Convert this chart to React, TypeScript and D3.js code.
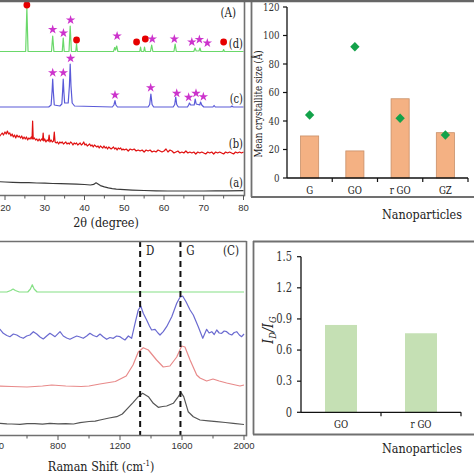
import React from 'react';
import * as d3 from 'd3';

const W = 474;
const H = 474;
const SERIF = 'DejaVu Serif, Liberation Serif, serif';
const SANS = 'Liberation Sans, Arial, Helvetica, DejaVu Sans, sans-serif';
const SQ = 0.83; // horizontal squeeze so DejaVu Serif approximates Times proportions

// ---------------- Panel A : XRD ----------------
const xrdMajorTicks = [20, 30, 40, 50, 60, 70, 80];
const xrdMinorTicks = [15, 25, 35, 45, 55, 65, 75];

// (a) black
const xrdA: [number, number][] = [
  [18.5, 14.3], [20, 14.0], [22, 13.7], [24, 13.4], [26, 13.3], [28, 13.0], [30, 12.8], [32, 12.5],
  [34, 12.4], [36, 12.1], [38, 11.9], [40, 11.5], [41.5, 11.0], [42.3, 11.6], [42.9, 13.2], [43.4, 12.0],
  [44, 10.4], [45, 9.1], [46, 8.1], [47, 7.4], [48, 6.8], [50, 6.3], [52, 5.9], [55, 5.5], [58, 5.2],
  [61, 5.0], [64, 5.0], [67, 5.0], [70, 5.0], [73, 5.2], [76, 5.2], [80, 5.3],
];

// (b) red
const xrdB: [number, number][] = [
  [18.5, 59], [18.9, 61], [19.3, 63], [19.6, 61], [20.0, 64], [20.3, 62], [20.6, 65], [20.9, 62], [21.2, 63],
  [21.5, 60], [21.8, 62], [22.1, 59], [22.4, 61], [22.7, 58], [23.0, 61], [23.3, 59], [23.6, 60], [23.9, 58],
  [24.2, 60], [24.5, 57], [24.8, 59], [25.1, 57], [25.4, 59], [25.7, 56], [26.0, 58], [26.3, 57], [26.6, 59],
  [26.8, 57], [26.95, 75], [27.1, 57], [27.4, 58], [27.7, 56], [28.0, 57], [28.3, 55], [28.6, 57], [28.9, 55],
  [29.2, 57], [29.45, 56], [29.6, 63], [29.75, 55], [30.0, 57], [30.3, 54], [30.6, 56], [30.9, 55], [31.1, 61],
  [31.3, 54], [31.6, 56], [31.9, 54], [32.2, 55], [32.4, 64], [32.6, 54], [32.9, 53], [33.2, 54], [33.5, 52],
  [33.8, 54], [34.1, 53], [34.4, 54], [34.7, 52], [35.0, 53], [35.3, 54], [35.6, 52], [35.9, 53], [36.2, 52],
  [36.5, 54], [36.8, 53], [37.1, 51], [37.4, 53], [37.7, 52], [38.0, 53], [38.3, 51], [38.6, 52], [38.9, 53],
  [39.2, 51], [39.5, 52], [39.8, 54], [40.1, 51], [40.4, 52], [40.7, 50], [41.0, 51], [41.3, 52], [41.6, 50],
  [41.9, 51], [42.2, 49], [42.5, 51], [42.8, 50], [43.1, 49], [43.4, 50], [43.7, 48], [44.0, 50], [44.3, 49],
  [44.6, 48], [44.9, 50], [45.2, 48], [45.5, 49], [45.8, 47], [46.1, 49], [46.4, 48], [46.7, 47], [47.0, 48],
  [47.3, 49], [47.6, 47], [47.9, 48], [48.2, 46], [48.5, 48], [48.8, 47], [49.1, 48], [49.4, 46], [49.7, 47],
  [50.0, 46], [50.5, 47], [51.0, 45], [51.5, 47], [52.0, 46], [52.5, 47], [53.0, 45], [53.5, 46], [54.0, 45],
  [54.5, 46], [55.0, 44], [55.5, 46], [56.0, 45], [56.5, 46], [57.0, 44], [57.5, 45], [58.0, 44], [58.5, 46],
  [59.0, 45], [59.5, 44], [60.0, 45], [60.5, 47], [61.0, 44], [61.5, 46], [62.0, 45], [62.5, 43], [63.0, 44],
  [63.5, 45], [64.0, 43], [64.5, 44], [65.0, 43], [65.5, 45], [66.0, 43], [66.5, 44], [67.0, 43], [67.5, 44],
  [68.0, 42], [68.5, 44], [69.0, 43], [69.5, 44], [70.0, 43], [70.5, 42], [71.0, 44], [71.5, 43], [72.0, 44],
  [72.5, 42], [73.0, 44], [73.5, 43], [74.0, 44], [74.5, 43], [75.0, 42], [75.5, 44], [76.0, 43], [76.5, 44],
  [77.0, 43], [77.5, 42], [78.0, 44], [78.5, 43], [79.0, 44], [79.5, 43], [80.0, 44],
];

// (c) blue
const xrdC: [number, number][] = [
  [10, 89], [31.0, 89], [31.6, 91], [31.85, 105], [32.0, 117], [32.15, 105], [32.4, 91], [33.8, 90],
  [34.3, 92], [34.5, 105], [34.65, 117], [34.8, 105], [35.0, 93], [35.9, 93], [36.2, 110], [36.4, 132],
  [36.6, 110], [36.9, 93], [37.5, 90], [47.0, 89], [47.4, 91], [47.67, 95.3], [47.9, 91], [48.3, 89],
  [56.0, 89], [56.4, 91.5], [56.7, 102], [57.0, 91.5], [57.4, 89], [62.3, 89], [62.7, 91.5], [62.95, 99],
  [63.2, 91.5], [63.6, 89], [65.9, 89], [66.2, 91], [66.4, 93], [66.7, 91], [67.6, 91], [67.85, 97],
  [68.1, 92], [69.0, 91], [69.2, 94], [69.5, 91], [70, 89], [72.3, 89], [72.6, 90.5], [72.9, 89],
  [76.8, 89], [77.1, 90], [77.4, 89], [80, 89],
];

// (d) green
const xrdD: [number, number][] = [
  [10, 144.5], [25.2, 144.5], [25.5, 188], [25.8, 144.5], [31.7, 144.5], [32.0, 160], [32.3, 144.5],
  [34.4, 144.5], [34.65, 158], [34.9, 144.5], [36.1, 144.5], [36.4, 170], [36.7, 144.5], [37.8, 144.5],
  [38.0, 152], [38.2, 144.5], [47.3, 144.5], [47.6, 148.5], [47.8, 146], [48.1, 150], [48.4, 144.5],
  [53.9, 144.5], [54.1, 149], [54.3, 144.5], [54.9, 144.5], [55.1, 149], [55.3, 144.5], [56.6, 144.5],
  [56.9, 151], [57.2, 144.5], [62.5, 144.5], [62.8, 152], [63.1, 144.5], [67.5, 144.5], [67.8, 148],
  [68.1, 145], [68.8, 145], [69.05, 148], [69.3, 144.5], [74.8, 144.5], [75.0, 146.5], [75.2, 144.5],
  [80, 144.5],
];

const xrdDStars: [number, number][] = [
  [32.0, 166.5], [34.7, 163], [36.5, 176], [48.2, 160], [57.05, 157], [62.6, 157], [67.0, 154], [68.9, 156.5], [70.9, 153],
];
const xrdDDots: [number, number][] = [
  [25.5, 191], [38.0, 156], [53.1, 154], [55.3, 157], [75.0, 154],
];
const xrdCStars: [number, number][] = [
  [32.0, 123.3], [34.67, 123.3], [36.5, 137.7], [47.67, 101], [56.65, 108.3], [63.2, 102.7], [66.2, 98.7], [68.05, 102.7], [69.9, 99.3],
];

const xrdTraces = [
  { label: '(a)', data: xrdA, color: '#3a3a3a' },
  { label: '(b)', data: xrdB, color: '#e01010' },
  { label: '(c)', data: xrdC, color: '#5a5ad8' },
  { label: '(d)', data: xrdD, color: '#6ad86a' },
];

// ---------------- Panel B : crystallite size ----------------
const crystCategories = ['G', 'GO', 'r GO', 'GZ'];
const crystBars = [29.5, 19, 55.6, 31.8];
const crystDiamonds = [44.2, 92.1, 41.9, 30.2];
const crystTicks = [0, 20, 40, 60, 80, 100, 120];

// ---------------- Panel C : Raman ----------------
const ramanMajorTicks = [400, 800, 1200, 1600, 2000];
const ramanMinorTicks = [600, 1000, 1400, 1800];
const ramanBands = [
  { label: 'D', pos: 1330 },
  { label: 'G', pos: 1590 },
];

const ramanBlack: [number, number][] = [
  [400, 12.5], [426, 12.7], [470, 12.2], [500, 12.0], [555, 11.7], [600, 12.4], [650, 12.3], [700, 11.9],
  [748, 12.7], [800, 12.2], [850, 12.4], [900, 12.0], [942, 13.3], [1000, 14.5], [1040, 14.8], [1071, 16],
  [1130, 18], [1179, 19.3], [1215, 22], [1243, 26.7], [1284, 33.3], [1318, 39.3], [1346, 42.7], [1383, 39.3],
  [1415, 32.7], [1447, 28.7], [1475, 29.5], [1501, 30], [1544, 32.7], [1576, 39.3], [1594, 43.3], [1611, 39.3],
  [1640, 24.3], [1673, 19.3], [1716, 16], [1770, 15.2], [1824, 14.3], [1880, 13.5], [1931, 12.7], [2000, 11.5],
];

const ramanRed: [number, number][] = [
  [400, 50], [500, 49.5], [600, 49], [700, 50], [760, 51], [850, 50], [950, 49.5], [1000, 50], [1070, 52],
  [1170, 54.5], [1240, 60], [1284, 71], [1318, 84], [1350, 88.3], [1383, 86], [1436, 76], [1479, 69],
  [1522, 70], [1566, 79], [1598, 90], [1619, 89], [1652, 76], [1695, 61], [1716, 58], [1759, 55],
  [1800, 57], [1840, 55], [1888, 53], [1974, 50], [2000, 51],
];

const ramanBlue: [number, number][] = [
  [400, 108], [426, 106.7], [447, 102.7], [470, 100.5], [490, 99.3], [512, 102], [534, 101], [555, 99],
  [576, 97.7], [598, 100], [619, 101], [641, 104.3], [663, 102], [684, 99], [705, 97], [727, 100],
  [748, 102.7], [765, 101], [781, 99.3], [813, 104.3], [834, 100], [856, 98], [877, 96.7], [900, 98.5],
  [921, 100], [942, 99], [963, 97.7], [985, 100], [1006, 102.7], [1028, 100.5], [1050, 99.3], [1071, 102],
  [1093, 99], [1114, 96.7], [1135, 98.5], [1157, 97.7], [1178, 100], [1200, 99.3], [1216, 97.5], [1232, 96],
  [1254, 100], [1275, 97.7], [1297, 112.7], [1318, 126], [1334, 130], [1350, 122.7], [1372, 116], [1390, 110],
  [1404, 106], [1426, 106.7], [1445, 103], [1458, 101], [1479, 104.3], [1501, 109.3], [1534, 119.3],
  [1566, 132.7], [1587, 138.7], [1604, 140], [1626, 134.3], [1652, 126], [1673, 121], [1705, 109.3],
  [1734, 97.7], [1759, 106.7], [1775, 103], [1792, 104.3], [1808, 101.5], [1824, 106], [1840, 103],
  [1856, 102.7], [1872, 105], [1888, 104.3], [1905, 102], [1921, 101], [1937, 103.5], [1953, 104.3],
  [1970, 101], [1985, 99.3], [2000, 102],
];

const ramanGreen: [number, number][] = [
  [400, 144], [470, 144], [495, 145.5], [510, 147], [525, 145.5], [550, 144], [605, 144], [622, 147],
  [634, 151.3], [646, 147], [665, 144], [2000, 144],
];

const ramanTraces = [
  { data: ramanBlack, color: '#555555' },
  { data: ramanRed, color: '#e88a8a' },
  { data: ramanBlue, color: '#6a6ad0' },
  { data: ramanGreen, color: '#86e086' },
];

// ---------------- Panel D : ID/IG ----------------
const ratioCategories = ['GO', 'r GO'];
const ratioValues = [0.842, 0.762];
const ratioTicks = [0, 0.3, 0.6, 0.9, 1.2, 1.5];

const FRAME = '#707070';

type STProps = {
  x: number; y: number; size: number; anchor?: 'start' | 'middle' | 'end';
  rotate?: number; color?: string; italic?: boolean; central?: boolean; children: React.ReactNode;
};
function ST({ x, y, size, anchor = 'middle', rotate = 0, color = '#222', italic = false, central = false, children }: STProps) {
  return (
    <text transform={`translate(${x},${y}) rotate(${rotate}) scale(${SQ},1)`} textAnchor={anchor}
      dy={central ? '0.35em' : undefined} fontFamily={SERIF} fontSize={size} fill={color}
      fontStyle={italic ? 'italic' : undefined}>
      {children}
    </text>
  );
}

function PanelA() {
  const x = d3.scaleLinear().domain([20, 80]).range([5, 243.5]);
  const y = d3.scaleLinear().domain([0, 196]).range([196, 0]);
  const line = d3.line<[number, number]>().x((d) => x(d[0])).y((d) => y(d[1]));
  const star = d3.symbol(d3.symbolStar, 28)() as string;
  const axisY = 195.5;
  return (
    <g>
      <defs>
        <clipPath id="clipA">
          <rect x={-50} y={0} width={294} height={195} />
        </clipPath>
      </defs>
      <g clipPath="url(#clipA)">
        {xrdTraces.map((t) => (
          <path key={t.label} d={line(t.data) as string} fill="none" stroke={t.color} strokeWidth={1.2} strokeLinejoin="round" />
        ))}
        {xrdDStars.map((d, i) => (
          <path key={'ds' + i} d={star} transform={`translate(${x(d[0])},${y(d[1])})`} fill="#cc33cc" />
        ))}
        {xrdCStars.map((d, i) => (
          <path key={'cs' + i} d={star} transform={`translate(${x(d[0])},${y(d[1])})`} fill="#cc33cc" />
        ))}
        {xrdDDots.map((d, i) => (
          <circle key={'dd' + i} cx={x(d[0])} cy={y(d[1])} r={3.4} fill="#e60000" />
        ))}
        {xrdTraces.map((t) => (
          <ST key={'l' + t.label} x={243} y={y(t.data[t.data.length - 1][1]) - 4} size={12} anchor="end">{t.label}</ST>
        ))}
        <ST x={236} y={17} size={12.5} anchor="end">(A)</ST>
      </g>
      <line x1={0} x2={244.5} y1={axisY} y2={axisY} stroke={FRAME} strokeWidth={1.6} />
      <line x1={244.5} x2={244.5} y1={0} y2={axisY + 0.8} stroke={FRAME} strokeWidth={1.6} />
      {xrdMajorTicks.map((t) => (
        <line key={'M' + t} x1={x(t)} x2={x(t)} y1={axisY} y2={axisY + 4.5} stroke="#555" strokeWidth={1} />
      ))}
      {xrdMinorTicks.map((t) => (
        <line key={'m' + t} x1={x(t)} x2={x(t)} y1={axisY} y2={axisY + 3} stroke="#555" strokeWidth={1} />
      ))}
      {xrdMajorTicks.map((t) => (
        <text key={'t' + t} x={Math.max(x(t), 5.5)} y={210.5} textAnchor="middle" fontFamily={SANS} fontSize={9.5} fill="#333">{t}</text>
      ))}
      <ST x={106} y={226.5} size={13.5}>2θ (degree)</ST>
    </g>
  );
}

function PanelB() {
  const x = d3.scaleBand<string>().domain(crystCategories).range([287, 468]).paddingInner(0.6).paddingOuter(0.3);
  const y = d3.scaleLinear().domain([0, 120]).range([178, 7]);
  const step = x.step();
  const x0 = 287;
  const diamond = d3.symbol(d3.symbolSquare, 44)() as string;
  return (
    <g>
      <line x1={251.5} x2={251.5} y1={0} y2={197} stroke={FRAME} strokeWidth={1.8} />
      <line x1={251} x2={W} y1={197} y2={197} stroke={FRAME} strokeWidth={1.8} />
      {crystCategories.map((c, i) => (
        <rect key={c} x={x(c)} y={y(crystBars[i])} width={x.bandwidth()} height={y(0) - y(crystBars[i])}
          fill="#F4B183" stroke="#c98f68" strokeWidth={0.8} />
      ))}
      {crystCategories.map((c, i) => (
        <path key={'d' + c} d={diamond} transform={`translate(${(x(c) as number) + x.bandwidth() / 2},${y(crystDiamonds[i])}) rotate(45)`}
          fill="#13a24a" />
      ))}
      <line x1={x0} x2={x0} y1={y(120)} y2={y(0)} stroke="#111" strokeWidth={1.3} />
      <line x1={x0} x2={x0 + step * crystCategories.length} y1={y(0)} y2={y(0)} stroke="#111" strokeWidth={1.3} />
      {crystTicks.map((t) => (
        <g key={t}>
          <line x1={x0 - 4} x2={x0} y1={y(t)} y2={y(t)} stroke="#111" strokeWidth={1.2} />
          <ST x={279.5} y={y(t)} size={10.5} anchor="end" central color="#333">{t}</ST>
        </g>
      ))}
      {crystCategories.map((c, i) => (
        <g key={'x' + c}>
          <line x1={x0 + step * (i + 1)} x2={x0 + step * (i + 1)} y1={y(0)} y2={y(0) + 4} stroke="#111" strokeWidth={1.2} />
          <ST x={(x(c) as number) + x.bandwidth() / 2} y={194} size={10.5}>{c}</ST>
        </g>
      ))}
      <ST x={258.5} y={104} size={10.5} rotate={-90} central>Mean crystallite size (Å)</ST>
      <ST x={422} y={218.5} size={13.5}>Nanoparticles</ST>
    </g>
  );
}

function PanelC() {
  const x = d3.scaleLinear().domain([800, 2000]).range([58, 244]);
  const y = d3.scaleLinear().domain([0, 195]).range([436, 241]);
  const line = d3.line<[number, number]>().x((d) => x(d[0])).y((d) => y(d[1]));
  const axisY = 435.5;
  return (
    <g>
      <defs>
        <clipPath id="clipC">
          <rect x={-50} y={242} width={296} height={193} />
        </clipPath>
      </defs>
      <g clipPath="url(#clipC)">
        {ramanTraces.map((t, i) => (
          <path key={i} d={line(t.data) as string} fill="none" stroke={t.color} strokeWidth={1.2} strokeLinejoin="round" />
        ))}
        {ramanBands.map((b) => (
          <line key={b.label} x1={x(b.pos)} x2={x(b.pos)} y1={241} y2={axisY} stroke="#111" strokeWidth={2} strokeDasharray="6,4" />
        ))}
        {ramanBands.map((b) => (
          <ST key={'t' + b.label} x={x(b.pos) + 10} y={255} size={12.5}>{b.label}</ST>
        ))}
        <ST x={239} y={255} size={12.5} anchor="end">(C)</ST>
      </g>
      <line x1={0} x2={246.5} y1={241.5} y2={241.5} stroke={FRAME} strokeWidth={1.6} />
      <line x1={246.5} x2={246.5} y1={241} y2={axisY + 0.8} stroke={FRAME} strokeWidth={1.6} />
      <line x1={0} x2={246.5} y1={axisY} y2={axisY} stroke={FRAME} strokeWidth={1.6} />
      {ramanMajorTicks.map((t) => (
        <line key={'M' + t} x1={x(t)} x2={x(t)} y1={axisY} y2={axisY + 4.5} stroke="#555" strokeWidth={1} />
      ))}
      {ramanMinorTicks.map((t) => (
        <line key={'m' + t} x1={x(t)} x2={x(t)} y1={axisY} y2={axisY + 3} stroke="#555" strokeWidth={1} />
      ))}
      {ramanMajorTicks.map((t) => (
        <text key={'t' + t} x={x(t)} y={448.5} textAnchor="middle" fontFamily={SANS} fontSize={9.5} fill="#333">{t}</text>
      ))}
      <ST x={101} y={471} size={13.5}>
        Raman Shift (cm<tspan dy={-5} fontSize={8.5}>-1</tspan><tspan dy={5}>)</tspan>
      </ST>
    </g>
  );
}

function PanelD() {
  const x = d3.scaleBand<string>().domain(ratioCategories).range([301, 461]).paddingInner(0.6).paddingOuter(0.3);
  const y = d3.scaleLinear().domain([0, 1.5]).range([412.3, 256.7]);
  const step = x.step();
  const x0 = 301;
  return (
    <g>
      <line x1={253.5} x2={253.5} y1={241} y2={434.5} stroke={FRAME} strokeWidth={1.8} />
      <line x1={253} x2={W} y1={241.5} y2={241.5} stroke={FRAME} strokeWidth={1.8} />
      <line x1={253} x2={W} y1={434.5} y2={434.5} stroke={FRAME} strokeWidth={1.8} />
      {ratioCategories.map((c, i) => (
        <rect key={c} x={x(c)} y={y(ratioValues[i])} width={x.bandwidth()} height={y(0) - y(ratioValues[i])} fill="#C5E0B4" />
      ))}
      <line x1={x0} x2={x0} y1={y(1.5)} y2={y(0)} stroke="#111" strokeWidth={1.3} />
      <line x1={x0} x2={x0 + step * ratioCategories.length} y1={y(0)} y2={y(0)} stroke="#111" strokeWidth={1.3} />
      {ratioTicks.map((t) => (
        <g key={t}>
          <line x1={x0 - 4} x2={x0} y1={y(t)} y2={y(t)} stroke="#111" strokeWidth={1.2} />
          <ST x={292} y={y(t)} size={12} anchor="end" central color="#333">{t}</ST>
        </g>
      ))}
      {ratioCategories.map((c, i) => (
        <g key={'x' + c}>
          <line x1={x0 + step * (i + 1)} x2={x0 + step * (i + 1)} y1={y(0)} y2={y(0) + 4} stroke="#111" strokeWidth={1.2} />
          <ST x={(x(c) as number) + x.bandwidth() / 2} y={428} size={10.5}>{c}</ST>
        </g>
      ))}
      <ST x={268} y={330} size={15} rotate={-90} central italic>
        I<tspan dy={3} fontSize={10}>D</tspan><tspan dy={-3}>/I</tspan><tspan dy={3} fontSize={10}>G</tspan>
      </ST>
      <ST x={422} y={452.5} size={13.5}>Nanoparticles</ST>
    </g>
  );
}

export default function App() {
  return (
    <svg width={W} height={H} viewBox={`0 0 ${W} ${H}`}
      style={{ position: 'fixed', left: 0, top: 0, background: '#fff', display: 'block' }}>
      <rect x={0} y={0} width={W} height={H} fill="#fff" />
      <PanelA />
      <PanelB />
      <PanelC />
      <PanelD />
      <line x1={0} x2={W} y1={1} y2={1} stroke="#666" strokeWidth={2.5} />
    </svg>
  );
}
